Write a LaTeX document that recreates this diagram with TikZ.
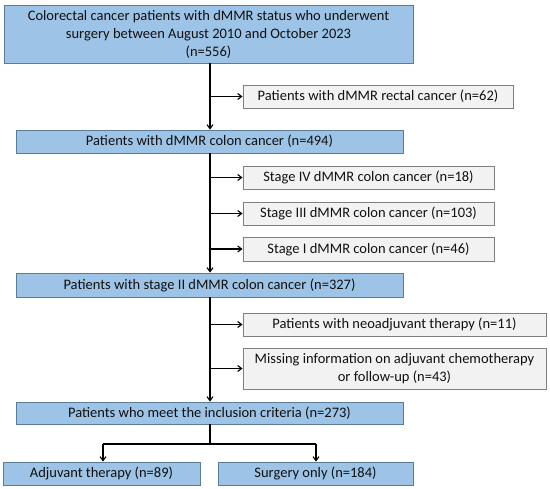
\documentclass[tikz,border=0pt]{standalone}
\usepackage{fontspec}
\setmainfont{Carlito}
\usetikzlibrary{arrows.meta}
\definecolor{bluefill}{HTML}{9DC3E6}
\definecolor{blueedge}{HTML}{5A7C99}
\definecolor{grayfill}{HTML}{F2F2F2}
\definecolor{grayedge}{HTML}{7F7F7F}
\definecolor{txt}{HTML}{111111}
\tikzset{
  box/.style={rectangle, inner sep=0pt, align=center, text=txt, font=\fontsize{14.5}{18}\selectfont, line width=0.9pt},
  bluebox/.style={box, fill=bluefill, draw=blueedge},
  graybox/.style={box, fill=grayfill, draw=grayedge},
  conn/.style={line width=1.2pt, -{Straight Barb[length=4pt,width=6pt,line width=1.1pt]}},
  plain/.style={line width=1.2pt}
}
\begin{document}
\begin{tikzpicture}[x=1pt,y=-1pt]
\useasboundingbox (0,0) rectangle (550,489);
\node[bluebox, minimum width=409pt, minimum height=58pt] (top) at (208.5,34) {Colorectal cancer patients with dMMR status who underwent\\surgery between August 2010 and October 2023\\(n=556)};
\node[graybox, minimum width=270pt, minimum height=23pt] (rectal) at (378,96.5) {Patients with dMMR rectal cancer (n=62)};
\node[bluebox, minimum width=387pt, minimum height=23pt] (colon) at (209.5,141.5) {Patients with dMMR colon cancer (n=494)};
\node[graybox, minimum width=251pt, minimum height=23pt] (s4) at (368.5,177.5) {Stage IV dMMR colon cancer (n=18)};
\node[graybox, minimum width=251pt, minimum height=23pt] (s3) at (368.5,213.5) {Stage III dMMR colon cancer (n=103)};
\node[graybox, minimum width=251pt, minimum height=24pt] (s1) at (368.5,249) {Stage I dMMR colon cancer (n=46)};
\node[bluebox, minimum width=387pt, minimum height=24pt] (s2) at (209.5,285) {Patients with stage II dMMR colon cancer (n=327)};
\node[graybox, minimum width=303pt, minimum height=23pt] (neo) at (394.5,324.5) {Patients with neoadjuvant therapy (n=11)};
\node[graybox, minimum width=303pt, minimum height=41pt] (miss) at (394.5,368.5) {Missing information on adjuvant chemotherapy\\or follow-up (n=43)};
\node[bluebox, minimum width=387pt, minimum height=22pt] (incl) at (209.5,413) {Patients who meet the inclusion criteria (n=273)};
\node[bluebox, minimum width=197pt, minimum height=23pt] (adj) at (101.5,473.5) {Adjuvant therapy (n=89)};
\node[bluebox, minimum width=195pt, minimum height=23pt] (surg) at (315.5,473.5) {Surgery only (n=184)};
\coordinate (sp) at (210,0);
\coordinate (br) at (210,444);
\coordinate (al) at (103,444);
\coordinate (ar) at (316,444);
% spine arrows
\draw[conn] (top.south -| sp) -- (colon.north -| sp);
\draw[conn] (colon.south -| sp) -- (s2.north -| sp);
\draw[conn] (s2.south -| sp) -- (incl.north -| sp);
% side arrows
\draw[conn] (rectal.west -| sp) -- (rectal.west);
\draw[conn] (s4.west -| sp) -- (s4.west);
\draw[conn] (s3.west -| sp) -- (s3.west);
\draw[conn] (s1.west -| sp) -- (s1.west);
\draw[conn] (neo.west -| sp) -- (neo.west);
\draw[conn] (miss.west -| sp) -- (miss.west);
% bottom split
\draw[plain] (incl.south -| br) -- (br);
\draw[plain] (al) -- (ar);
\draw[conn] (al) -- (adj.north -| al);
\draw[conn] (ar) -- (surg.north -| ar);
\end{tikzpicture}
\end{document}
